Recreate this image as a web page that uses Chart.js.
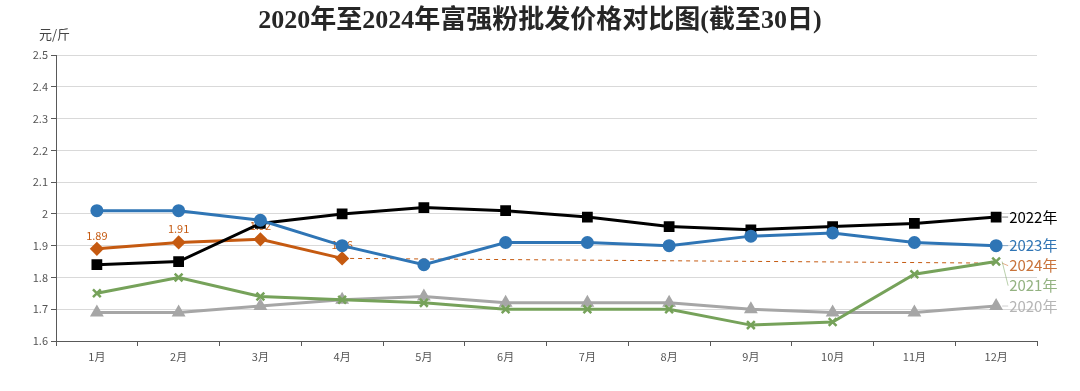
<!DOCTYPE html>
<html>
<head>
<meta charset="utf-8">
<script src="https://cdn.jsdelivr.net/npm/chart.js@4"></script>
<style>
  html, body { margin: 0; padding: 0; background: #fff; }
  #wrap { position: relative; width: 1080px; height: 391px; }
  #title { position: absolute; left: 0; top: -2px; width: 1080px; text-align: center;
    font: bold 26px "Liberation Serif", "Noto Sans CJK SC", serif; color: #262626; }
  #unit { position: absolute; left: 39px; top: 24px; font: 13px "Noto Sans CJK SC", sans-serif; color: #444; }
</style>
</head>
<body>
<div id="wrap">
  <canvas id="price-chart" width="1080" height="391"></canvas>
  <div id="title">2020年至2024年富强粉批发价格对比图(截至30日)</div>
  <div id="unit">元/斤</div>
</div>
<script>
const months = ["1月", "2月", "3月", "4月", "5月", "6月", "7月", "8月", "9月", "10月", "11月", "12月"];
const y2022 = [1.84, 1.85, 1.97, 2.00, 2.02, 2.01, 1.99, 1.96, 1.95, 1.96, 1.97, 1.99];
const y2023 = [2.01, 2.01, 1.98, 1.90, 1.84, 1.91, 1.91, 1.90, 1.93, 1.94, 1.91, 1.90];
const y2024 = [1.89, 1.91, 1.92, 1.86, null, null, null, null, null, null, null, null];
const trend2024 = [null, null, null, 1.86, null, null, null, null, null, null, null, 1.845];
const y2021 = [1.75, 1.80, 1.74, 1.73, 1.72, 1.70, 1.70, 1.70, 1.65, 1.66, 1.81, 1.85];
const y2020 = [1.69, 1.69, 1.71, 1.73, 1.74, 1.72, 1.72, 1.72, 1.70, 1.69, 1.69, 1.71];
const yMin = 1.6, yMax = 2.5, yStep = 0.1;

const black = "#000000", blue = "#2f75b5", orange = "#c55a11", green = "#76a25a", gray = "#a6a6a6";

// value labels above the 2024 points, drawn under the lines
const valueLabels = {
    id: "valueLabels",
    beforeDatasetsDraw(chart) {
        const ctx = chart.ctx;
        chart.data.datasets.forEach((ds, i) => {
            if (!ds.showValues) return;
            const meta = chart.getDatasetMeta(i);
            ctx.save();
            ctx.font = "11px 'Noto Sans CJK SC', sans-serif";
            ctx.fillStyle = ds.borderColor;
            ctx.textAlign = "center";
            ctx.textBaseline = "bottom";
            meta.data.forEach((pt, j) => {
                if (ds.data[j] == null) return;
                ctx.fillText(ds.data[j].toFixed(2), pt.x, pt.y - 8);
            });
            ctx.restore();
        });
    }
};

// series names at the right end of each line, top to bottom in endRank order,
// pushed apart so they don't overlap, with a faint leader line
const endLabels = {
    id: "endLabels",
    afterDatasetsDraw(chart) {
        const ctx = chart.ctx;
        const items = [];
        chart.data.datasets.forEach((ds, i) => {
            if (!ds.endLabel) return;
            const meta = chart.getDatasetMeta(i);
            const last = meta.data[meta.data.length - 1];
            items.push({ rank: ds.endRank, text: ds.endLabel, color: ds.endColor || ds.borderColor,
                         line: ds.borderColor, x: last.x, y0: last.y, y: last.y });
        });
        items.sort((a, b) => a.rank - b.rank);
        for (let k = 1; k < items.length; k++) {
            if (items[k].y < items[k - 1].y + 20) items[k].y = items[k - 1].y + 20;
        }
        ctx.save();
        ctx.font = "15px 'Noto Sans CJK SC', sans-serif";
        ctx.textBaseline = "middle";
        items.forEach(it => {
            ctx.globalAlpha = 0.5;
            ctx.strokeStyle = it.line;
            ctx.lineWidth = 1;
            ctx.beginPath();
            ctx.moveTo(it.x + 6, it.y0);
            ctx.lineTo(it.x + 12, it.y);
            ctx.stroke();
            ctx.globalAlpha = 1;
            ctx.fillStyle = it.color;
            ctx.fillText(it.text, it.x + 13, it.y);
        });
        ctx.restore();
    }
};

new Chart(document.getElementById("price-chart"), {
    type: "line",
    data: {
        labels: months,
        datasets: [
            { label: "2023年", data: y2023, borderColor: blue, backgroundColor: blue, borderWidth: 3,
              pointStyle: "circle", pointRadius: 5, order: 0, endLabel: "2023年", endRank: 1 },
            { label: "2022年", data: y2022, borderColor: black, backgroundColor: black, borderWidth: 3,
              pointStyle: "rect", pointRadius: 5.5, order: 1, endLabel: "2022年", endRank: 0 },
            { label: "2024年", data: y2024, borderColor: orange, backgroundColor: orange, borderWidth: 3,
              pointStyle: "rectRot", pointRadius: 5, order: 2, showValues: true },
            { label: "2024趋势", data: trend2024, borderColor: orange, borderWidth: 1, borderDash: [4, 4],
              pointRadius: 0, spanGaps: true, order: 5, endLabel: "2024年", endColor: "#c9733a", endRank: 2 },
            { label: "2021年", data: y2021, borderColor: green, backgroundColor: green, borderWidth: 3,
              pointStyle: "crossRot", pointRadius: 5.5, pointBorderWidth: 2.5, order: 3,
              endLabel: "2021年", endColor: "#93b281", endRank: 3 },
            { label: "2020年", data: y2020, borderColor: gray, backgroundColor: gray, borderWidth: 3,
              pointStyle: "triangle", pointRadius: 5, order: 4, endLabel: "2020年", endColor: "#b5b5b5", endRank: 4 }
        ]
    },
    options: {
        responsive: false,
        animation: false,
        layout: { padding: { top: 55, right: 43, left: 0, bottom: 0 } },
        plugins: { legend: { display: false }, tooltip: { enabled: false } },
        scales: {
            x: {
                offset: true,
                grid: { display: true, drawOnChartArea: false, drawTicks: true, tickLength: 5, color: "#595959", offset: true },
                border: { display: true, color: "#595959", width: 1 },
                ticks: { color: "#555", font: { size: 11, family: "'Noto Sans CJK SC', sans-serif" }, padding: 4 },
                afterFit(scale) { scale.height = 50; }
            },
            y: {
                min: yMin,
                max: yMax,
                grid: { color: "#d9d9d9", tickLength: 5, tickColor: "#595959" },
                border: { display: true, color: "#595959", width: 1 },
                ticks: {
                    stepSize: yStep,
                    color: "#555",
                    font: { size: 11, family: "'Noto Sans CJK SC', sans-serif" },
                    padding: 3,
                    callback: v => String(+v.toFixed(1))
                },
                afterFit(scale) { scale.width = 56; }
            }
        }
    },
    plugins: [valueLabels, endLabels]
});
</script>
</body>
</html>
